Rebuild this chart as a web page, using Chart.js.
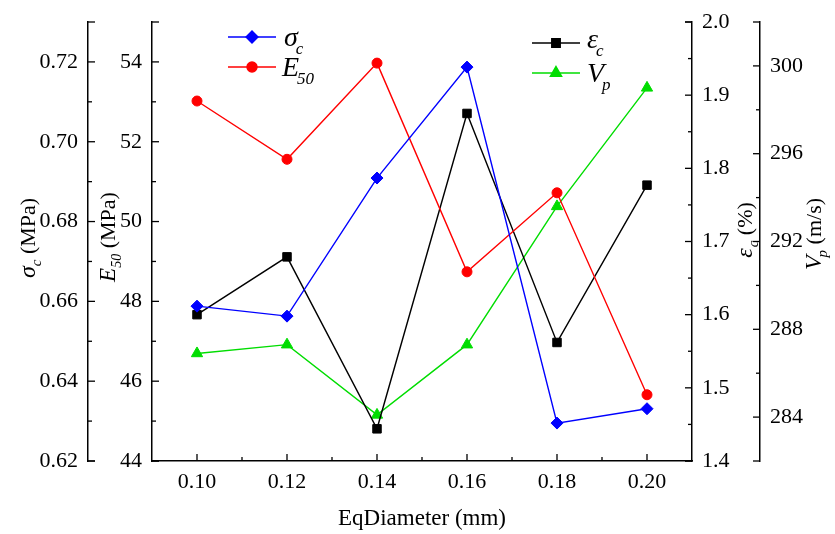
<!DOCTYPE html>
<html>
<head>
<meta charset="utf-8">
<script src="https://cdn.jsdelivr.net/npm/chart.js@4.4.0/dist/chart.umd.min.js"></script>
<style>
  html, body { margin: 0; padding: 0; background: #fff; }
</style>
</head>
<body>
<canvas id="chart" width="835" height="534"></canvas>
<script>
// values
const diameters = [0.10, 0.12, 0.14, 0.16, 0.18, 0.20];
const sigmaC = [0.6588, 0.6563, 0.6909, 0.7187, 0.6295, 0.6331];
const e50 = [53.02, 51.56, 53.97, 48.74, 50.72, 45.66];
const epsC = [1.600, 1.679, 1.444, 1.875, 1.562, 1.777];
const vp = [286.9, 287.3, 284.1, 287.3, 293.6, 299.0];

const xTicks = [0.10, 0.12, 0.14, 0.16, 0.18, 0.20];
const sigmaTicks = [0.62, 0.64, 0.66, 0.68, 0.70, 0.72];
const e50Ticks = [44, 46, 48, 50, 52, 54];
const epsTicks = [1.4, 1.5, 1.6, 1.7, 1.8, 1.9, 2.0];
const vpTicks = [284, 288, 292, 296, 300];

const SERIF = "'Liberation Serif', serif";
const GREEN = '#00dd00';

Chart.defaults.font.family = SERIF;
Chart.defaults.color = '#000';

function pts(values) {
  return diameters.map((d, i) => ({ x: d, y: values[i] }));
}

function series(label, values, axis, color, style, radius) {
  return {
    label: label,
    data: pts(values),
    yAxisID: axis,
    borderColor: color,
    backgroundColor: color,
    borderWidth: 1.4,
    pointStyle: style,
    pointRadius: radius,
    pointBackgroundColor: color,
    pointBorderColor: color,
    pointBorderWidth: 1,
    tension: 0
  };
}

function yAxis(position, weight, min, max, tickList, digits, width) {
  return {
    type: 'linear',
    position: position,
    weight: weight,
    min: min,
    max: max,
    grid: { display: true, drawOnChartArea: false, drawTicks: false },
    border: { display: true, color: '#000', width: 1.5 },
    ticks: {
      padding: 10,
      color: '#000',
      font: { family: SERIF, size: 22 },
      callback: v => v.toFixed(digits)
    },
    afterBuildTicks: s => { s.ticks = tickList.map(v => ({ value: v })); },
    afterFit: s => {
      s.width = width;
      s.paddingTop = 0;
      s.paddingBottom = 0;
    }
  };
}

// inward ticks, minor ticks and end caps like the Origin axes
function tickMarks(ctx, s, horizontal, dir) {
  const major = s.ticks.map(t => t.value);
  const minor = [];
  for (let i = 0; i < major.length - 1; i++) minor.push((major[i] + major[i + 1]) / 2);
  const step = major[1] - major[0];
  if (major[0] - step / 2 > s.min + 1e-9) minor.push(major[0] - step / 2);
  if (major[major.length - 1] + step / 2 < s.max - 1e-9) minor.push(major[major.length - 1] + step / 2);
  const base = horizontal ? s.top : (s.position === 'left' ? s.right : s.left);
  const draw = (v, len) => {
    const p = s.getPixelForValue(v);
    ctx.beginPath();
    if (horizontal) {
      ctx.moveTo(p, base);
      ctx.lineTo(p, base - len);
    } else {
      ctx.moveTo(base, p);
      ctx.lineTo(base + dir * len, p);
    }
    ctx.stroke();
  };
  major.forEach(v => draw(v, 7));
  minor.forEach(v => draw(v, 4));
  if (!horizontal) {
    draw(s.min, 7);
    draw(s.max, 7);
  }
}

function richText(ctx, parts, x, y, rotate) {
  ctx.save();
  ctx.translate(x, y);
  if (rotate) ctx.rotate(-Math.PI / 2);
  let total = 0;
  parts.forEach(p => {
    ctx.font = p.font;
    p.w = ctx.measureText(p.t).width;
    total += p.w + (p.dx || 0);
  });
  let cx = rotate ? -total / 2 : 0;
  ctx.textBaseline = 'alphabetic';
  ctx.textAlign = 'left';
  parts.forEach(p => {
    ctx.font = p.font;
    cx += p.dx || 0;
    ctx.fillText(p.t, cx, p.dy || 0);
    cx += p.w;
  });
  ctx.restore();
}

const it = size => 'italic ' + size + 'px ' + SERIF;
const rm = size => size + 'px ' + SERIF;

const axisTitles = [
  { x: 35, y: 238, parts: [{ t: 'σ', font: it(24) }, { t: 'c', font: it(15), dy: 6 }, { t: ' (MPa)', font: rm(22) }] },
  { x: 115, y: 237, parts: [{ t: 'E', font: it(23) }, { t: '50', font: it(14), dy: 6 }, { t: ' (MPa)', font: rm(22) }] },
  { x: 752, y: 230, parts: [{ t: 'ε', font: it(24) }, { t: 'c', font: it(15), dy: 6, dx: 1 }, { t: ' (%)', font: rm(22) }] },
  { x: 821, y: 234, parts: [{ t: 'V', font: it(24) }, { t: 'p', font: it(15), dy: 6, dx: -2 }, { t: ' (m/s)', font: rm(22) }] }
];

const legendSymbols = ['σ', 'E', 'ε', 'V'];
const legendSubs = ['c', '50', 'c', 'p'];
const legendSpots = [
  { x: 228, y: 37, tx: 284, ty: 46 },
  { x: 228, y: 67, tx: 282, ty: 76 },
  { x: 532, y: 43, tx: 587, ty: 48 },
  { x: 532, y: 73, tx: 587, ty: 82 }
];

const decor = {
  id: 'decor',
  afterDraw(chart) {
    const ctx = chart.ctx;
    ctx.save();
    ctx.strokeStyle = '#000';
    ctx.lineWidth = 1.3;
    tickMarks(ctx, chart.scales.x, true, -1);
    tickMarks(ctx, chart.scales.ySigma, false, 1);
    tickMarks(ctx, chart.scales.yE50, false, 1);
    tickMarks(ctx, chart.scales.yEps, false, -1);
    tickMarks(ctx, chart.scales.yVp, false, -1);

    ctx.fillStyle = '#000';
    axisTitles.forEach(a => richText(ctx, a.parts, a.x, a.y, true));
    const xs = chart.scales.x;
    ctx.font = rm(23);
    ctx.textAlign = 'center';
    ctx.textBaseline = 'alphabetic';
    ctx.fillText('EqDiameter (mm)', (xs.left + xs.right) / 2, 525);

    // legend
    chart.data.datasets.forEach((ds, i) => {
      const L = legendSpots[i];
      ctx.strokeStyle = ds.borderColor;
      ctx.lineWidth = 1.4;
      ctx.beginPath();
      ctx.moveTo(L.x, L.y);
      ctx.lineTo(L.x + 48, L.y);
      ctx.stroke();
      ctx.fillStyle = ds.borderColor;
      Chart.helpers.drawPoint(ctx, { pointStyle: ds.pointStyle, radius: ds.pointRadius, rotation: 0, borderWidth: 1 }, L.x + 24, L.y);
      ctx.fillStyle = '#000';
      ctx.font = it(28);
      const w = ctx.measureText(legendSymbols[i]).width;
      ctx.textAlign = 'left';
      ctx.fillText(legendSymbols[i], L.tx, L.ty);
      ctx.font = it(17);
      ctx.fillText(legendSubs[i], L.tx + w - 2, L.ty + 8);
    });
    ctx.restore();
  }
};

new Chart(document.getElementById('chart'), {
  type: 'line',
  data: {
    datasets: [
      series('σc', sigmaC, 'ySigma', '#0000ff', 'rectRot', 6),
      series('E50', e50, 'yE50', '#ff0000', 'circle', 5),
      series('εc', epsC, 'yEps', '#000000', 'rect', 6),
      series('Vp', vp, 'yVp', GREEN, 'triangle', 6.5)
    ]
  },
  options: {
    responsive: false,
    animation: false,
    layout: { padding: { top: 22, left: 0, right: 0, bottom: 0 } },
    plugins: { legend: { display: false }, tooltip: { enabled: false } },
    scales: {
      x: {
        type: 'linear',
        position: 'bottom',
        min: 0.09,
        max: 0.21,
        grid: { display: true, drawOnChartArea: false, drawTicks: false },
        border: { display: true, color: '#000', width: 1.5 },
        ticks: {
          padding: 8,
          color: '#000',
          font: { family: SERIF, size: 22 },
          callback: v => v.toFixed(2)
        },
        afterBuildTicks: s => { s.ticks = xTicks.map(v => ({ value: v })); },
        afterFit: s => {
          s.height = 73;
          s.paddingLeft = 0;
          s.paddingRight = 0;
        }
      },
      ySigma: yAxis('left', 2, 0.62, 0.73, sigmaTicks, 2, 88),
      yE50: yAxis('left', 1, 44, 55, e50Ticks, 0, 64),
      yEps: yAxis('right', 1, 1.4, 2.0, epsTicks, 1, 68),
      yVp: yAxis('right', 2, 282, 302, vpTicks, 0, 75)
    }
  },
  plugins: [decor]
});
</script>
</body>
</html>
